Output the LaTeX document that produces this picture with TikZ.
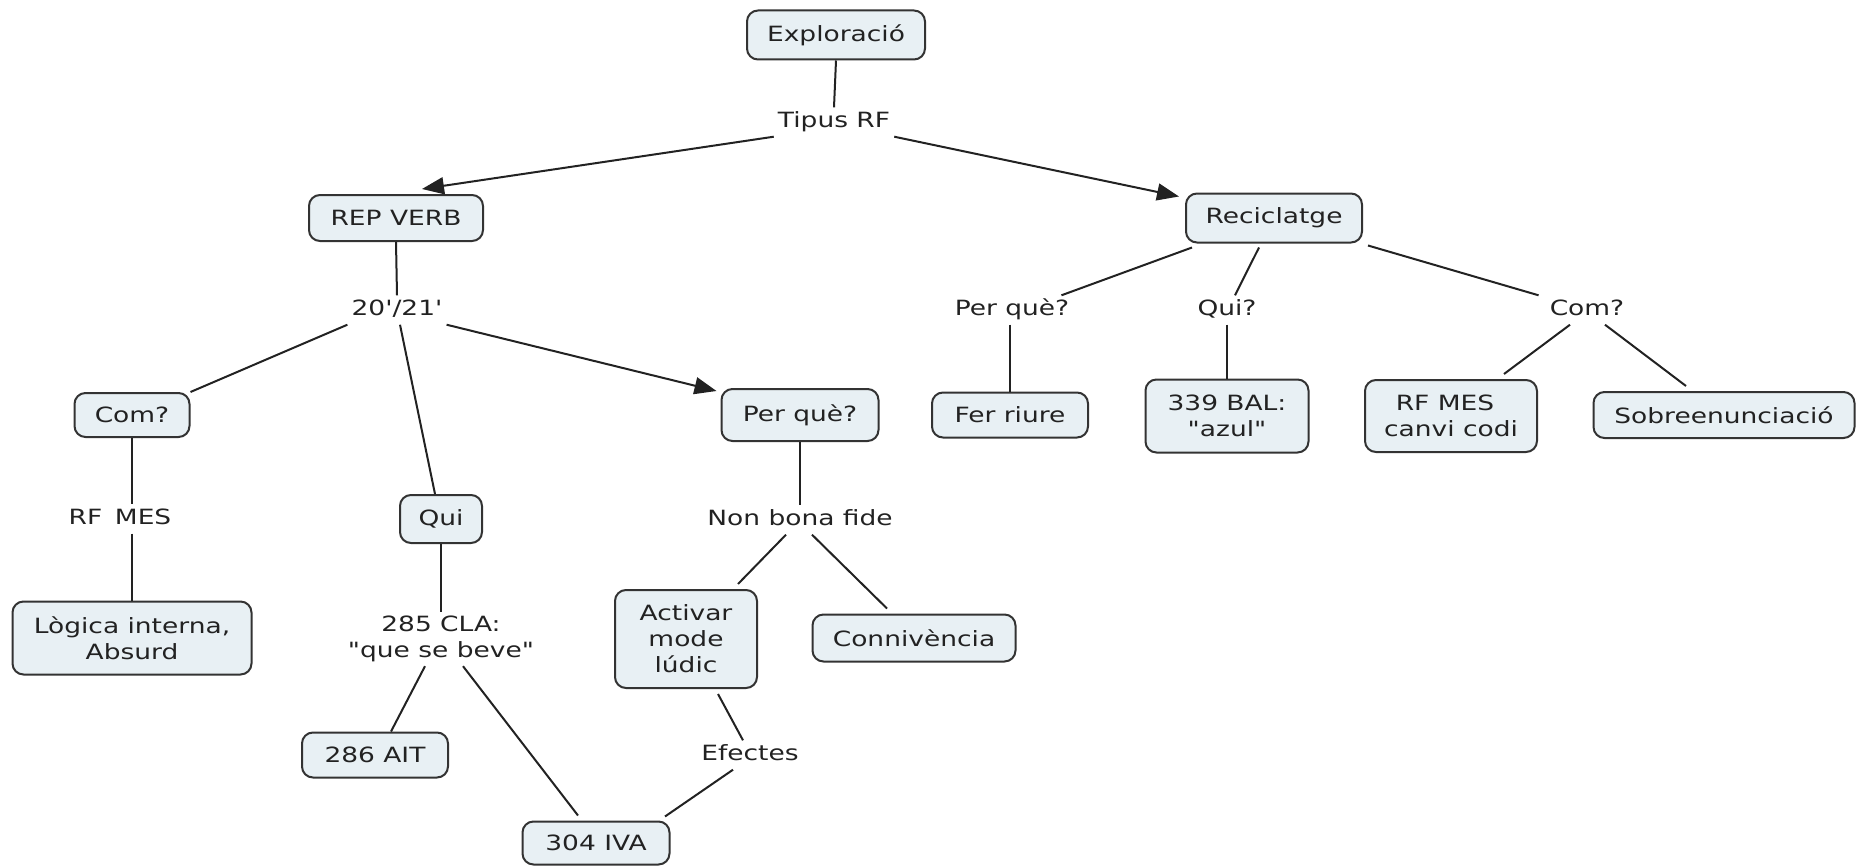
\documentclass[tikz,border=0pt]{standalone}
\usepackage{fontspec}
\setmainfont{DejaVu Sans}[FakeStretch=1.26, Ligatures=TeXOff]
\usetikzlibrary{arrows.meta}
\definecolor{boxfill}{HTML}{E8F0F4}
\definecolor{ink}{HTML}{222222}
\definecolor{edge}{HTML}{333333}

\begin{document}
\begin{tikzpicture}[x=1pt,y=-1pt,
  every node/.style={font=\fontsize{21}{26}\selectfont, text=ink},
  concept/.style={draw=edge, line width=2pt, fill=boxfill, rounded corners=11pt,
    align=center, inner sep=0pt},
  phrase/.style={align=center, inner sep=4pt, text height=16pt, text depth=5pt},
  phrasetwo/.style={align=center, inner sep=4pt},
  link/.style={draw=ink, line width=2pt},
  arrowlink/.style={link, -{Triangle[length=22pt,width=17pt]}},
]
\useasboundingbox (0,0) rectangle (1866,867);

% concepts (boxes)
\node[concept, minimum width=178, minimum height=49] (explo)   at (836,35)  {Exploració};
\node[concept, minimum width=174, minimum height=46] (repverb) at (396,218) {REP VERB};
\node[concept, minimum width=176, minimum height=49] (recic)   at (1274,218) {Reciclatge};
\node[concept, minimum width=115, minimum height=44] (comL)    at (132,415) {Com?};
\node[concept, minimum width=239, minimum height=73] (logica)  at (132,638) {Lògica interna,\\Absurd};
\node[concept, minimum width=82,  minimum height=48] (quiL)    at (441,519) {Qui};
\node[concept, minimum width=146, minimum height=45] (ait)     at (375,755) {286 AIT};
\node[concept, minimum width=147, minimum height=43] (iva)     at (596,843) {304 IVA};
\node[concept, minimum width=157, minimum height=52] (perqL)   at (800,415) {Per què?};
\node[concept, minimum width=142, minimum height=98] (activar) at (686,639) {Activar\\mode\\lúdic};
\node[concept, minimum width=203, minimum height=47] (conn)    at (914,638) {Connivència};
\node[concept, minimum width=156, minimum height=45] (fer)     at (1010,415) {Fer riure};
\node[concept, minimum width=163, minimum height=73] (bal)     at (1227,416) {339 BAL:\\"azul"};
\node[concept, minimum width=172, minimum height=72] (rfmesR)  at (1451,416) {RF MES\rule{12pt}{0pt}\\canvi codi};
\node[concept, minimum width=261, minimum height=46] (sobre)   at (1724,415) {Sobreenunciació};

% linking phrases
\node[phrase] (tipus)   at (834,122)  {Tipus RF};
\node[phrase] (t2021)   at (397,310)  {20'/21'};
\node[phrase] (rfmesL)  at (120,519)  {RF\hspace{0.6em}MES};
\node[phrasetwo] (cla)  at (441,639)  {285 CLA:\\"que se beve"};
\node[phrase] (nbf)     at (800,520)  {Non bona fide};
\node[phrase] (efectes) at (750,755)  {Efectes};
\node[phrase] (perqR)   at (1012,310) {Per què?};
\node[phrase] (quiR)    at (1227,310) {Qui?};
\node[phrase] (comR)    at (1587,310) {Com?};

% top level
\draw[link] (explo.south) -- (tipus.north);
\draw[arrowlink] (tipus.south west) -- ([xshift=26,yshift=5]repverb.north);
\draw[arrowlink] (tipus.south east) -- ([xshift=-6,yshift=-4]recic.north west);

% REP VERB branch
\draw[link] (repverb.south) -- (t2021.north);
\draw[link] (t2021.south west) -- (comL.north east);
\draw[link] ([xshift=3]t2021.south) -- ([xshift=-6]quiL.north);
\draw[arrowlink] (t2021.south east) -- ([xshift=-4,yshift=-3]perqL.north west);

\draw[link] (comL.south) -- (rfmesL.north -| comL.south);
\draw[link] (rfmesL.south -| logica.north) -- (logica.north);

\draw[link] (quiL.south) -- (cla.north);
\draw[link] ([xshift=-16]cla.south) -- ([xshift=16]ait.north);
\draw[link] ([xshift=22]cla.south) -- ([xshift=-18,yshift=5]iva.north);

\draw[link] (perqL.south) -- (nbf.north);
\draw[link] ([xshift=-14]nbf.south) -- ([xshift=52,yshift=5]activar.north);
\draw[link] ([xshift=12]nbf.south) -- ([xshift=-27,yshift=5]conn.north);
\draw[link] ([xshift=32,yshift=-5]activar.south) -- ([xshift=-7]efectes.north);
\draw[link] ([xshift=-17]efectes.south) -- ([xshift=69,yshift=4]iva.north);

% Reciclatge branch
\draw[link] ([xshift=7,yshift=-4]recic.south west) -- ([xshift=-12]perqR.north east);
\draw[link] ([xshift=-15,yshift=-4]recic.south) -- ([xshift=8]quiR.north);
\draw[link] ([xshift=5,yshift=-2]recic.south east) -- ([xshift=-7]comR.north west);

\draw[link] (perqR.south -| fer.north) -- (fer.north);
\draw[link] (quiR.south) -- (bal.north);
\draw[link] ([xshift=-17]comR.south) -- ([xshift=53,yshift=5]rfmesR.north);
\draw[link] ([xshift=18]comR.south) -- ([xshift=-38,yshift=5]sobre.north);
\end{tikzpicture}
\end{document}
